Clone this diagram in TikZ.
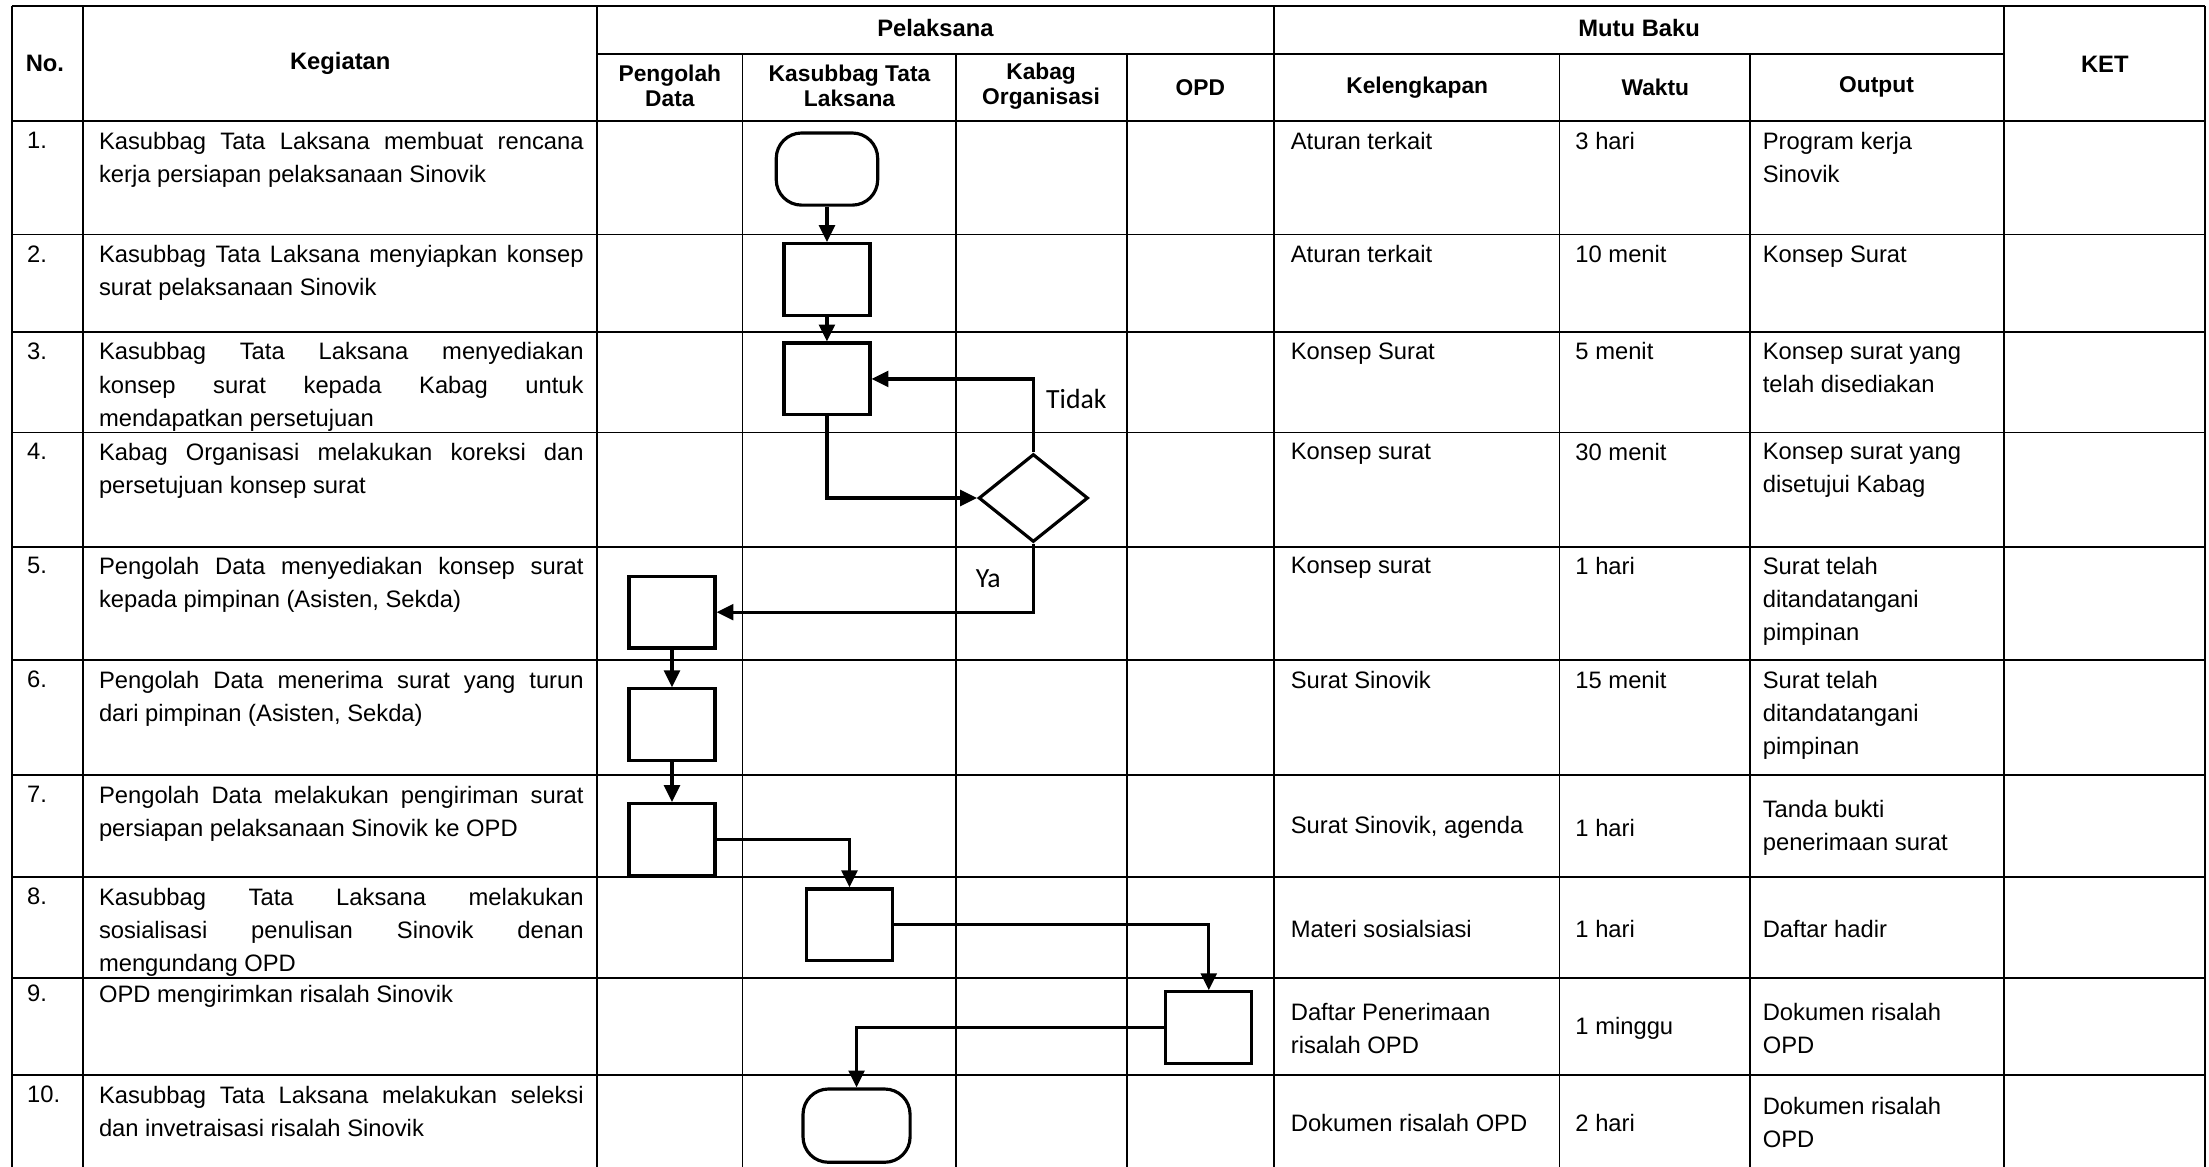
\documentclass[tikz,border=0pt]{standalone}
\usepackage{fontspec}
\setmainfont{Liberation Sans}
\newfontfamily\answerfamily{Carlito}
\usepackage{tikz}
\usetikzlibrary{arrows.meta,shapes.geometric}

\newcommand{\bodyfont}{\fontsize{12pt}{16.7pt}\selectfont}
\newcommand{\kegfont}{\bodyfont\hyphenpenalty=10000\tolerance=10000\hbadness=10000}
\newcommand{\headfont}{\fontsize{12pt}{14pt}\selectfont\bfseries}
\newcommand{\subheadfont}{\fontsize{11.5pt}{12.8pt}\selectfont\bfseries}
\newcommand{\answerfont}{\answerfamily\fontsize{14pt}{16pt}\selectfont}

\begin{document}
\begin{tikzpicture}[
		x=0.25mm, y=-0.25mm,
		grid/.style={line width=0.9pt},
		flow/.style={
			draw,
			line width=1.6pt,
			fill=white,
			inner sep=0pt
		},
		procbox/.style={flow, rectangle, minimum width=15.25mm, minimum height=12.75mm},
		terminal/.style={flow, rectangle, rounded corners=4.5mm, minimum width=18mm, minimum height=12.8mm},
		decision/.style={flow, diamond, minimum width=19.4mm, minimum height=15.6mm},
		arrow/.style={-{Triangle[length=3mm,width=2.8mm]}, line width=1.6pt},
		number/.style={anchor=north west, inner sep=0pt, font=\bodyfont},
		activity/.style={
			anchor=north west,
			inner sep=0pt,
			text width=86mm,
			align=justify,
			font=\kegfont
		},
		cell/.style={anchor=north west, inner sep=0pt, align=left, font=\bodyfont},
		midcell/.style={anchor=west, inner sep=0pt, align=left, font=\bodyfont},
		head/.style={inner sep=0pt, align=center, font=\headfont},
		subhead/.style={inner sep=0pt, align=center, font=\subheadfont},
		answer/.style={inner sep=0pt, font=\answerfont}
		]
		
		\useasboundingbox (0,0) rectangle (1568,828);
		
		% Table grid
		\draw[grid] (8.5,4.5) -- (1565,4.5);
		\draw[grid] (424,38.5) -- (1422.5,38.5);
		\draw[grid] (8.5,86) -- (1565,86);
		\draw[grid] (8.5,166.5) -- (1565,166.5);
		\draw[grid] (8.5,235.5) -- (1565,235.5);
		\draw[grid] (8.5,307) -- (1565,307);
		\draw[grid] (8.5,388) -- (1565,388);
		\draw[grid] (8.5,468.5) -- (1565,468.5);
		\draw[grid] (8.5,550) -- (1565,550);
		\draw[grid] (8.5,622.5) -- (1565,622.5);
		\draw[grid] (8.5,694) -- (1565,694);
		\draw[grid] (8.5,763) -- (1565,763);
		
		\draw[grid] (8.5,4.5) -- (8.5,828);
		\draw[grid] (59,4.5) -- (59,828);
		\draw[grid] (424,4.5) -- (424,828);
		\draw[grid] (527,38.5) -- (527,828);
		\draw[grid] (678.5,38.5) -- (678.5,828);
		\draw[grid] (800,38.5) -- (800,828);
		\draw[grid] (904.5,4.5) -- (904.5,828);
		\draw[grid] (1107,38.5) -- (1107,828);
		\draw[grid] (1242,38.5) -- (1242,828);
		\draw[grid] (1422.5,4.5) -- (1422.5,828);
		\draw[grid] (1565,4.5) -- (1565,828);
		
		% Header
		\node[head, anchor=west] (hno) at (18,45) {No.};
		\node[head] (hkeg) at (241.5,45) {Kegiatan};
		\node[head] (hpel) at (664,20) {Pelaksana};
		\node[head] (hmutu) at (1163.5,20) {Mutu Baku};
		\node[head] (hket) at (1494,45.5) {KET};
		\node[subhead] (hpengolah) at (475.5,61) {Pengolah\\Data};
		\node[subhead] (hkasubbag) at (603,61) {Kasubbag Tata\\Laksana};
		\node[subhead] (hkabag) at (739,61) {Kabag\\Organisasi};
		\node[subhead] (hopd) at (852,62) {OPD};
		\node[subhead] (hleng) at (1006,62) {Kelengkapan};
		\node[subhead] (hwaktu) at (1175,62) {Waktu};
		\node[subhead] (houtput) at (1332,62) {Output};
		
		% Row numbers
		\node[number] (n1) at (19,93.5) {1.};
		\node[number] (n2) at (19,174) {2.};
		\node[number] (n3) at (19,243) {3.};
		\node[number] (n4) at (19,314.5) {4.};
		\node[number] (n5) at (19,395.5) {5.};
		\node[number] (n6) at (19,476) {6.};
		\node[number] (n7) at (19,557.5) {7.};
		\node[number] (n8) at (19,630) {8.};
		\node[number] (n9) at (19,699) {9.};
		\node[number] (n10) at (19,770.5) {10.};
		
		% Kegiatan
		\node[activity] (k1) at (70,93.5) {Kasubbag Tata Laksana membuat rencana\linebreak kerja persiapan pelaksanaan Sinovik};
		\node[activity] (k2) at (70,174) {Kasubbag Tata Laksana menyiapkan konsep\linebreak surat pelaksanaan Sinovik};
		\node[activity] (k3) at (70,243) {Kasubbag Tata Laksana menyediakan\linebreak konsep surat kepada Kabag untuk\linebreak mendapatkan persetujuan};
		\node[activity] (k4) at (70,314.5) {Kabag Organisasi melakukan koreksi dan\linebreak persetujuan konsep surat};
		\node[activity] (k5) at (70,395.5) {Pengolah Data menyediakan konsep surat\linebreak kepada pimpinan (Asisten, Sekda)};
		\node[activity] (k6) at (70,476) {Pengolah Data menerima surat yang turun\linebreak dari pimpinan (Asisten, Sekda)};
		\node[activity] (k7) at (70,557.5) {Pengolah Data melakukan pengiriman surat\linebreak persiapan pelaksanaan Sinovik ke OPD};
		\node[activity] (k8) at (70,630) {Kasubbag Tata Laksana melakukan\linebreak sosialisasi penulisan Sinovik denan\linebreak mengundang OPD};
		\node[activity] (k9) at (70,699) {OPD mengirimkan risalah Sinovik};
		\node[activity] (k10) at (70,770.5) {Kasubbag Tata Laksana melakukan seleksi\linebreak dan invetraisasi risalah Sinovik};
		
		% Mutu Baku
		\node[cell] (lk1) at (916,93.5) {Aturan terkait};
		\node[cell] (wk1) at (1118,93.5) {3 hari};
		\node[cell] (out1) at (1251,93.5) {Program kerja\\Sinovik};
		\node[cell] (lk2) at (916,174) {Aturan terkait};
		\node[cell] (wk2) at (1118,174) {10 menit};
		\node[cell] (out2) at (1251,174) {Konsep Surat};
		\node[cell] (lk3) at (916,243) {Konsep Surat};
		\node[cell] (wk3) at (1118,243) {5 menit};
		\node[cell] (out3) at (1251,243) {Konsep surat yang\\telah disediakan};
		\node[cell] (lk4) at (916,314.5) {Konsep surat};
		\node[cell] (wk4) at (1118,314.5) {30 menit};
		\node[cell] (out4) at (1251,314.5) {Konsep surat yang\\disetujui Kabag};
		\node[cell] (lk5) at (916,395.5) {Konsep surat};
		\node[cell] (wk5) at (1118,395.5) {1 hari};
		\node[cell] (out5) at (1251,395.5) {Surat telah\\ditandatangani\\pimpinan};
		\node[cell] (lk6) at (916,476) {Surat Sinovik};
		\node[cell] (wk6) at (1118,476) {15 menit};
		\node[cell] (out6) at (1251,476) {Surat telah\\ditandatangani\\pimpinan};
		\node[midcell] (lk7) at (916,587.5) {Surat Sinovik, agenda};
		\node[midcell] (wk7) at (1118,587.5) {1 hari};
		\node[midcell] (out7) at (1251,587.5) {Tanda bukti\\penerimaan surat};
		\node[midcell] (lk8) at (916,659.5) {Materi sosialsiasi};
		\node[midcell] (wk8) at (1118,659.5) {1 hari};
		\node[midcell] (out8) at (1251,659.5) {Daftar hadir};
		\node[midcell] (lk9) at (916,730) {Daftar Penerimaan\\risalah OPD};
		\node[midcell] (wk9) at (1118,730) {1 minggu};
		\node[midcell] (out9) at (1251,730) {Dokumen risalah\\OPD};
		\node[midcell] (lk10) at (916,797) {Dokumen risalah OPD};
		\node[midcell] (wk10) at (1118,797) {2 hari};
		\node[midcell] (out10) at (1251,797) {Dokumen risalah\\OPD};
		
		% Flow chart
		\node[terminal] (start) at (587,120) {};
		\node[procbox] (konsep) at (587,198.5) {};
		\node[procbox] (ajuan) at (587,269) {};
		\node[decision] (koreksi) at (733.5,353.5) {};
		\node[procbox] (siapkan) at (477,434.5) {};
		\node[procbox] (terima) at (477,514.5) {};
		\node[procbox] (kirim) at (477,596) {};
		\node[procbox] (sosialisasi) at (603,656.5) {};
		\node[procbox] (risalah) at (858,729.5) {};
		\node[terminal, minimum width=19mm, minimum height=13mm] (seleksi) at (608,799) {};
		
		\node[answer] (tidak) at (764,283.5) {Tidak};
		\node[answer] (ya) at (701.5,411) {Ya};
		
		% Arrows
		\draw[arrow] (start.south) -- (konsep.north);
		\draw[arrow] (konsep.south) -- (ajuan.north);
		\draw[arrow] (ajuan.south) |- (koreksi.west);
		\draw[arrow] (koreksi.north) |- (ajuan.east);
		\draw[arrow] (koreksi.south) |- (siapkan.east);
		\draw[arrow] (siapkan.south) -- (terima.north);
		\draw[arrow] (terima.south) -- (kirim.north);
		\draw[arrow] (kirim.east) -| (sosialisasi.north);
		\draw[arrow] (sosialisasi.east) -| (risalah.north);
		\draw[arrow] (risalah.west) -| (seleksi.north);
		
	\end{tikzpicture}
\end{document}
